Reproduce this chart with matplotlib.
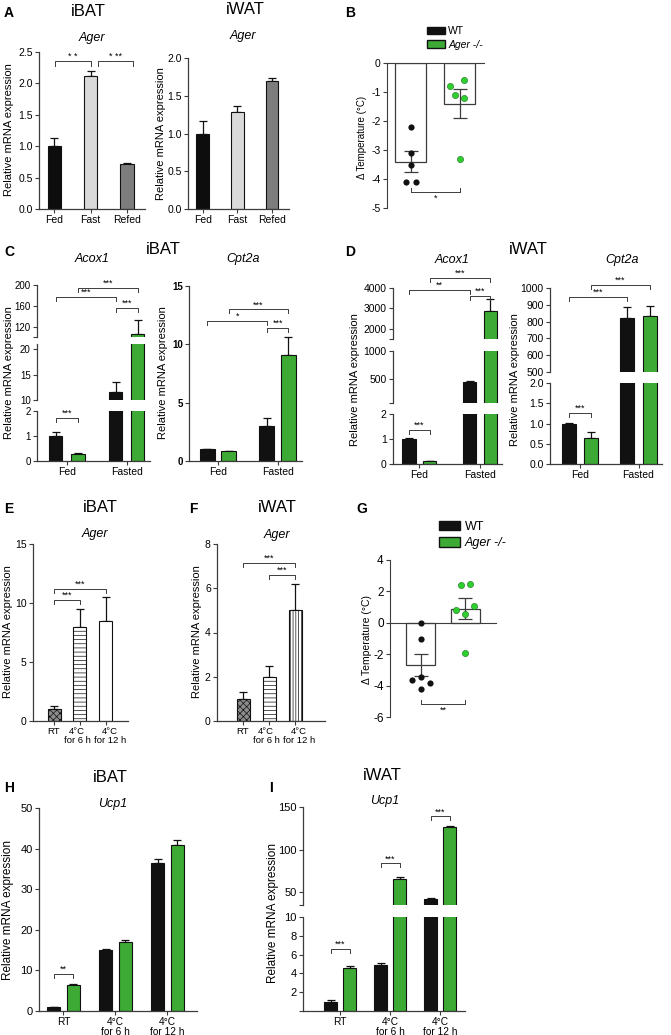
import matplotlib.pyplot as plt
import matplotlib.transforms as mtransforms
import numpy as np
from matplotlib.patches import Patch

plt.rcParams['font.family'] = ['Liberation Sans', 'DejaVu Sans']
plt.rcParams['axes.unicode_minus'] = False
plt.rcParams['hatch.linewidth'] = 0.5

W, H = 671, 1035
INK = '#111111'
AXC = '#3c3c3c'
GREEN = '#3daa36'
DOT_GREEN = '#2fcf2f'

# A: Ager, fed / fast / refed
a_cats = ['Fed', 'Fast', 'Refed']
a_colors = ['#0d0d0d', '#d9d9d9', '#7d7d7d']
a_ibat = [1.00, 2.12, 0.72]
a_ibat_err = [0.13, 0.07, 0.02]
a_iwat = [1.00, 1.28, 1.70]
a_iwat_err = [0.16, 0.09, 0.04]

# B / G: delta body temperature, single animals
temp_groups = ['WT', 'Ager -/-']
b_wt = [-2.2, -3.1, -3.5, -4.1, -4.1]
b_ko = [-0.8, -0.6, -1.1, -1.2, -3.3]
b_wt_jit = [0, 0, 0, -0.1, 0.1]
b_ko_jit = [-0.19, 0.09, -0.1, 0.09, 0]
g_wt = [0.0, -1.06, -3.43, -3.64, -3.81, -4.23]
g_ko = [2.43, 2.50, 0.80, 1.10, 0.53, -1.90]
g_wt_jit = [0, 0, 0, -0.2, 0.2, 0]
g_ko_jit = [-0.1, 0.1, -0.2, 0.2, 0, 0]

# C / D: fed vs fasted, WT vs Ager -/-
fast_cats = ['Fed', 'Fasted']
c_acox1_wt, c_acox1_wt_err = [1.0, 11.5], [0.15, 2.0]
c_acox1_ko, c_acox1_ko_err = [0.3, 105.0], [0.01, 28.0]
c_cpt2a_wt, c_cpt2a_wt_err = [1.0, 3.0], [0.05, 0.7]
c_cpt2a_ko, c_cpt2a_ko_err = [0.85, 9.1], [0.03, 1.5]
d_acox1_wt, d_acox1_wt_err = [1.0, 440.0], [0.03, 25.0]
d_acox1_ko, d_acox1_ko_err = [0.12, 2880.0], [0.02, 560.0]
d_cpt2a_wt, d_cpt2a_wt_err = [1.0, 820.0], [0.02, 68.0]
d_cpt2a_ko, d_cpt2a_ko_err = [0.63, 833.0], [0.17, 60.0]

# E / F: Ager after cold exposure
cold_cats = ['RT', '4°C\nfor 6 h', '4°C\nfor 12 h']
e_vals, e_err = [1.0, 8.0, 8.5], [0.3, 1.5, 2.0]
f_vals, f_err = [1.0, 2.0, 5.0], [0.3, 0.5, 1.2]

# H / I: Ucp1 after cold exposure
h_wt, h_wt_err = [1.0, 15.0, 36.5], [0.1, 0.2, 1.0]
h_ko, h_ko_err = [6.5, 17.0, 40.8], [0.2, 0.5, 1.3]
i_wt, i_wt_err = [1.0, 4.85, 42.5], [0.12, 0.25, 1.0]
i_ko, i_ko_err = [4.6, 66.0, 126.0], [0.2, 1.5, 2.0]

fig = plt.figure(figsize=(W / 100, H / 100), dpi=100)


def axp(left, top, right, bottom):
    return fig.add_axes([left / W, 1 - bottom / H, (right - left) / W, (bottom - top) / H])


def style(ax, xaxis=True, fs=7, bold=False):
    ax.set_facecolor('none')
    for s in ['top', 'right']:
        ax.spines[s].set_visible(False)
    for s in ['left', 'bottom']:
        ax.spines[s].set_color(AXC)
        ax.spines[s].set_linewidth(0.9)
    ax.tick_params(length=3, width=0.8, color=AXC, labelsize=fs, pad=1.5)
    if bold:
        for t in ax.get_yticklabels():
            t.set_fontweight('bold')
    if not xaxis:
        ax.spines['bottom'].set_visible(False)
        ax.tick_params(axis='x', bottom=False, labelbottom=False)


def px_dy(ax, px):
    y0, y1 = ax.get_ylim()
    return px * (y1 - y0) / (ax.get_position().height * H)


def bracket(ax, x1, x2, y, text, up=False, tick=4, fs=6.5):
    d = px_dy(ax, tick)
    ys = [y + d, y, y, y + d] if up else [y - d, y, y, y - d]
    ax.plot([x1, x1, x2, x2], ys, color=AXC, lw=0.7, clip_on=False)
    if up:
        ax.text((x1 + x2) / 2, y - px_dy(ax, 2), text, ha='center', va='top', fontsize=fs)
    else:
        ax.text((x1 + x2) / 2, y, text, ha='center', va='bottom', fontsize=fs)


def up_err(ax, x, vals, errs, cap=3):
    ax.errorbar(x, vals, yerr=[np.zeros(len(vals)), errs], fmt='none', ecolor=INK,
                elinewidth=0.9, capsize=cap, capthick=0.9, zorder=1)


def broken(left, right, segs, fs=7, bold=False):
    axs = []
    for k, (ylo, yhi, top, bot, ticks, labels) in enumerate(segs):
        ax = axp(left, top, right, bot)
        ax.set_ylim(ylo, yhi)
        ax.set_yticks(ticks, labels)
        style(ax, xaxis=(k == len(segs) - 1), fs=fs, bold=bold)
        axs.append(ax)
    return axs


def grouped(axs, wt, wt_err, ko, ko_err, off, width, xlim, cats, fs=7.5):
    x = np.arange(len(wt))
    for ax in axs:
        ax.bar(x - off, wt, width, color=INK, edgecolor=INK, lw=0.8, zorder=2)
        ax.bar(x + off, ko, width, color=GREEN, edgecolor=INK, lw=0.8, zorder=2)
        up_err(ax, x - off, wt, wt_err)
        up_err(ax, x + off, ko, ko_err)
        ax.set_xlim(*xlim)
    axs[-1].set_xticks(x, cats, fontsize=fs, linespacing=1.0)
    return x


def shift_xlabels(ax, shifts):
    for lab, dx in zip(ax.get_xticklabels(), shifts):
        lab.set_transform(lab.get_transform() + mtransforms.ScaledTranslation(dx / 100, 0, fig.dpi_scale_trans))


def label(x, y, s, **kw):
    fig.text(x / W, 1 - y / H, s, ha='center', va='center', **kw)


def ylab(x, y, s, fs=8):
    label(x, y, s, rotation=90, fontsize=fs)


def scatter_panel(ax, wt, ko, wt_jit, ko_jit, cap):
    pts = [np.array(wt), np.array(ko)]
    jit = [np.array(wt_jit), np.array(ko_jit)]
    means = [p.mean() for p in pts]
    sems = [p.std(ddof=1) / np.sqrt(len(p)) for p in pts]
    x = np.arange(2)
    ax.bar(x, means, 0.64, color='white', edgecolor=AXC, lw=0.9, zorder=1)
    ax.errorbar(x, means, yerr=sems, fmt='none', ecolor=AXC, elinewidth=0.9,
                capsize=cap, capthick=0.9, zorder=2)
    ax.scatter(x[0] + jit[0], pts[0], s=20, color=INK, zorder=3, lw=0)
    ax.scatter(x[1] + jit[1], pts[1], s=20, color=DOT_GREEN, edgecolor='#1b6e1b', lw=0.4, zorder=3)
    for s in ['top', 'right']:
        ax.spines[s].set_visible(False)
    ax.spines['left'].set_color(AXC)
    ax.spines['bottom'].set_color(AXC)
    ax.spines['bottom'].set_position(('data', 0))
    ax.set_xticks([])
    ax.set_facecolor('none')
    return x


def legend(x, y, fs):
    handles = [Patch(facecolor=INK, edgecolor=INK, label=temp_groups[0]),
               Patch(facecolor=GREEN, edgecolor=INK, label=temp_groups[1])]
    leg = fig.legend(handles=handles, loc='upper left', bbox_to_anchor=(x / W, 1 - y / H),
                     frameon=False, fontsize=fs, handlelength=1.7, handleheight=0.75,
                     handletextpad=0.35, labelspacing=0.35, borderpad=0, borderaxespad=0)
    leg.get_texts()[1].set_fontstyle('italic')


# ---------------- A ----------------
label(9, 13, 'A', fontsize=10, fontweight='bold')
label(88, 12, 'iBAT', fontsize=12)
label(245, 10, 'iWAT', fontsize=12)
label(92, 38, 'Ager', fontsize=9, style='italic')
label(243, 36, 'Ager', fontsize=9, style='italic')

ax = axp(39, 52, 145, 209)
x = np.arange(3)
ax.bar(x, a_ibat, 0.37, color=a_colors, edgecolor=INK, lw=0.8, zorder=2)
up_err(ax, x, a_ibat, a_ibat_err)
ax.set_ylim(0, 2.5)
ax.set_xlim(-0.42, 2.5)
ax.set_yticks(np.arange(0, 2.51, 0.5), ['0.0', '0.5', '1.0', '1.5', '2.0', '2.5'])
ax.set_xticks(x, a_cats)
style(ax, fs=7.5)
bracket(ax, 0.03, 1.0, 2.36, '* *', tick=5)
bracket(ax, 1.2, 2.16, 2.36, '* **', tick=5)
ylab(9, 130, 'Relative mRNA expression')

ax = axp(188, 58, 289, 209)
ax.bar(x, a_iwat, 0.37, color=a_colors, edgecolor=INK, lw=0.8, zorder=2)
up_err(ax, x, a_iwat, a_iwat_err)
ax.set_ylim(0, 2.0)
ax.set_xlim(-0.43, 2.49)
ax.set_yticks(np.arange(0, 2.01, 0.5), ['0.0', '0.5', '1.0', '1.5', '2.0'])
ax.set_xticks(x, a_cats)
style(ax, fs=7.5)
ylab(161, 134, 'Relative mRNA expression')

# ---------------- B ----------------
label(350, 13, 'B', fontsize=10, fontweight='bold')
legend(427, 26, 7.5)
ax = axp(387, 63, 484, 208)
ax.set_ylim(-5, 0)
ax.set_xlim(-0.49, 1.5)
scatter_panel(ax, b_wt, b_ko, b_wt_jit, b_ko_jit, cap=5)
ax.set_yticks(np.arange(-5, 1), ['-5', '-4', '-3', '-2', '-1', '0'])
ax.tick_params(length=3, width=0.8, color=AXC, labelsize=7.5, pad=1.5)
bracket(ax, 0, 1, -4.45, '*', up=True)
ylab(362, 137, 'Δ Temperature (°C)', fs=7)

# ---------------- C ----------------
label(9, 252, 'C', fontsize=10, fontweight='bold')
label(163, 250, 'iBAT', fontsize=12)
label(92, 259, 'Acox1', fontsize=9, style='italic')
label(243, 259, 'Cpt2a', fontsize=9, style='italic')

c1 = broken(37, 150, [
    (100, 200, 285, 337, [100, 120, 160, 200], ['', '120', '160', '200']),
    (10, 21, 344, 400, [10, 15, 20], ['10', '15', '20']),
    (0, 2, 411, 461, [0, 1, 2], ['0', '1', '2']),
])
x = grouped(c1, c_acox1_wt, c_acox1_wt_err, c_acox1_ko, c_acox1_ko_err, 0.185, 0.22, (-0.5, 1.39), fast_cats)
o = 0.185
bracket(c1[2], x[0] - o, x[0] + o, 1.72, '***')
bracket(c1[0], x[1] - o, x[1] + o, 156, '***')
bracket(c1[0], x[0] - o, x[1] - o, 177, '***')
bracket(c1[0], x[0] + o, x[1] + o, 194, '***')
ylab(9, 373, 'Relative mRNA expression')

c2 = broken(189, 302, [(0, 15, 286, 461, [0, 5, 10, 15], ['0', '5', '10', '15'])], bold=True)
x = grouped(c2, c_cpt2a_wt, c_cpt2a_wt_err, c_cpt2a_ko, c_cpt2a_ko_err, 0.18, 0.25, (-0.49, 1.41), fast_cats)
o = 0.18
bracket(c2[0], x[0] - o, x[1] - o, 12.0, '*')
bracket(c2[0], x[0] + o, x[1] + o, 13.0, '***')
bracket(c2[0], x[1] - o, x[1] + o, 11.4, '***')
ylab(163, 373, 'Relative mRNA expression')

# ---------------- D ----------------
label(350, 252, 'D', fontsize=10, fontweight='bold')
label(528, 249, 'iWAT', fontsize=12)
label(452, 260, 'Acox1', fontsize=9, style='italic')
label(622, 260, 'Cpt2a', fontsize=9, style='italic')

d1 = broken(393, 502, [
    (1500, 4000, 288, 339, [1500, 2000, 3000, 4000], ['', '2000', '3000', '4000']),
    (70, 1000, 351, 403, [70, 500, 1000], ['', '500', '1000']),
    (0, 2, 414, 464, [0, 1, 2], ['0', '1', '2']),
], fs=7.5)
x = grouped(d1, d_acox1_wt, d_acox1_wt_err, d_acox1_ko, d_acox1_ko_err, 0.17, 0.22, (-0.43, 1.36), fast_cats)
o = 0.17
bracket(d1[2], x[0] - o, x[0] + o, 1.36, '***')
bracket(d1[0], x[0] - o, x[1] - o, 3900, '**')
bracket(d1[0], x[0] + o, x[1] + o, 4490, '***')
bracket(d1[0], x[1] - o, x[1] + o, 3610, '***')
ylab(355, 380, 'Relative mRNA expression')

d2 = broken(550, 662, [
    (500, 1000, 288, 372, list(range(500, 1001, 100)), [str(v) for v in range(500, 1001, 100)]),
    (0, 2, 383, 464, [0, 0.5, 1, 1.5, 2], ['0.0', '0.5', '1.0', '1.5', '2.0']),
], fs=7.5)
x = grouped(d2, d_cpt2a_wt, d_cpt2a_wt_err, d_cpt2a_ko, d_cpt2a_ko_err, 0.19, 0.24, (-0.51, 1.4), fast_cats)
o = 0.19
bracket(d2[1], x[0] - o, x[0] + o, 1.26, '***')
bracket(d2[0], x[0] - o, x[1] - o, 946, '***')
bracket(d2[0], x[0] + o, x[1] + o, 1018, '***')
ylab(515, 380, 'Relative mRNA expression')

# ---------------- E / F ----------------
label(9, 509, 'E', fontsize=10, fontweight='bold')
label(100, 508, 'iBAT', fontsize=12)
label(95, 534, 'Ager', fontsize=9, style='italic')
ax = axp(33, 544, 128, 721)
x = np.arange(3)
ax.bar(x, e_vals, 0.5, color=['#8c8c8c', 'white', 'white'], edgecolor=INK, lw=0.8,
       hatch=['xxxxx', '----', ''], zorder=2)
up_err(ax, x, e_vals, e_err)
ax.set_ylim(0, 15)
ax.set_xlim(-0.81, 2.85)
ax.set_yticks([0, 5, 10, 15])
ax.set_xticks(x, cold_cats, linespacing=1.0)
style(ax, fs=6.8)
ax.tick_params(axis='y', labelsize=7.5)
shift_xlabels(ax, [0, -3, 4])
bracket(ax, 0, 1, 10.25, '***')
bracket(ax, 0, 2, 11.2, '***')
ylab(8, 632, 'Relative mRNA expression')

label(193, 509, 'F', fontsize=10, fontweight='bold')
label(277, 508, 'iWAT', fontsize=12)
label(277, 535, 'Ager', fontsize=9, style='italic')
ax = axp(217, 544, 325, 721)
ax.bar(x, f_vals, 0.5, color=['#8c8c8c', 'white', 'white'], edgecolor=INK, lw=0.8,
       hatch=['xxxxx', '----', '||||||'], zorder=2)
up_err(ax, x, f_vals, f_err)
ax.set_ylim(0, 8)
ax.set_xlim(-1.0, 3.15)
ax.set_yticks([0, 2, 4, 6, 8])
ax.set_xticks(x, cold_cats, linespacing=1.0)
style(ax, fs=6.8)
ax.tick_params(axis='y', labelsize=7.5)
shift_xlabels(ax, [0, -3, 4])
bracket(ax, 0, 2, 7.14, '***')
bracket(ax, 1, 2, 6.6, '***')
ylab(197, 632, 'Relative mRNA expression')

# ---------------- G ----------------
label(362, 509, 'G', fontsize=10, fontweight='bold')
legend(439, 521, 9)
ax = axp(390, 560, 496, 717)
ax.set_ylim(-6, 4)
ax.set_xlim(-0.68, 1.68)
scatter_panel(ax, g_wt, g_ko, g_wt_jit, g_ko_jit, cap=5)
ax.set_yticks(np.arange(-6, 5, 2), ['-6', '-4', '-2', '0', '2', '4'])
ax.tick_params(length=3, width=0.8, color=AXC, labelsize=8.5, pad=1.5)
bracket(ax, 0, 1, -5.15, '**', up=True)
ylab(367, 640, 'Δ Temperature (°C)', fs=7.5)

# ---------------- H ----------------
label(9, 788, 'H', fontsize=10, fontweight='bold')
label(110, 777, 'iBAT', fontsize=12)
label(113, 804, 'Ucp1', fontsize=9, style='italic')
h = broken(39, 197, [(0, 50, 808, 1011, [0, 10, 20, 30, 40, 50], ['0', '10', '20', '30', '40', '50'])], fs=8)
x = grouped(h, h_wt, h_wt_err, h_ko, h_ko_err, 0.19, 0.25, (-0.47, 2.57), cold_cats, fs=7.3)
h[0].tick_params(axis='x', pad=1)
bracket(h[0], x[0] - 0.19, x[0] + 0.19, 9.1, '**')
ylab(8, 910, 'Relative mRNA expression', fs=8.5)

# ---------------- I ----------------
label(271, 788, 'I', fontsize=10, fontweight='bold')
label(382, 776, 'iWAT', fontsize=12)
label(385, 801, 'Ucp1', fontsize=9, style='italic')
i_axs = broken(303, 465, [
    (35, 150, 807, 905, [35, 50, 100, 150], ['', '50', '100', '150']),
    (0, 10, 917, 1011, [0, 2, 4, 6, 8, 10], ['', '2', '4', '6', '8', '10']),
], fs=8)
x = grouped(i_axs, i_wt, i_wt_err, i_ko, i_ko_err, 0.19, 0.26, (-0.74, 2.5), cold_cats, fs=7.3)
i_axs[1].tick_params(axis='x', pad=1)
o = 0.19
bracket(i_axs[1], x[0] - o, x[0] + o, 6.6, '***')
bracket(i_axs[0], x[1] - o, x[1] + o, 84, '***')
bracket(i_axs[0], x[2] - o, x[2] + o, 139, '***')
ylab(273, 913, 'Relative mRNA expression', fs=8.5)

fig.savefig('out.png', dpi=100, facecolor='white')
